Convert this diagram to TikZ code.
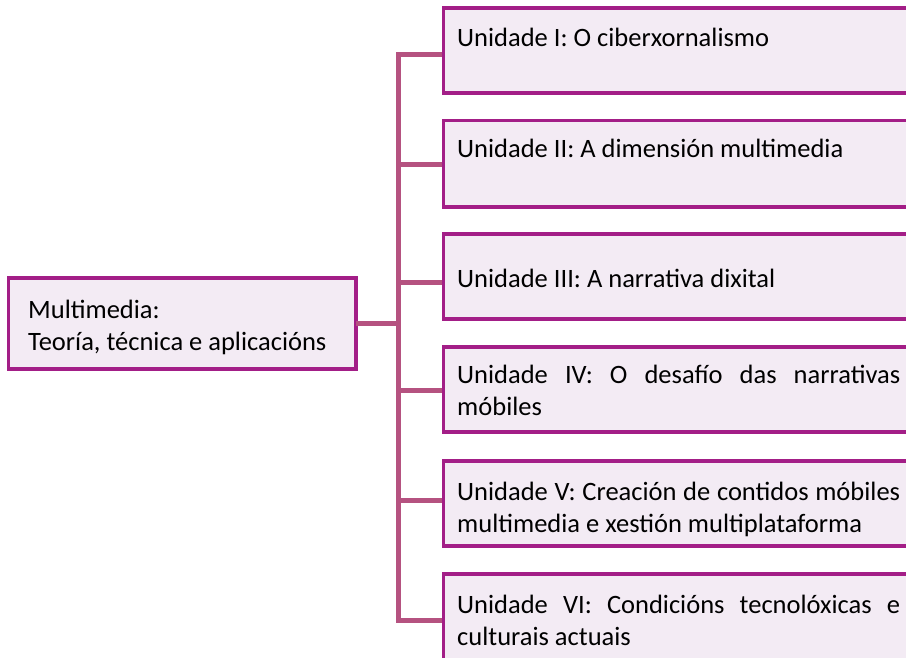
\documentclass[tikz,border=0pt]{standalone}
\usepackage{fontspec}
\setmainfont{Carlito}
\definecolor{boxborder}{RGB}{163,30,135}
\definecolor{boxfill}{RGB}{243,235,244}
\definecolor{linkcol}{RGB}{181,82,128}
\newcommand{\labelfont}{\fontsize{26.5}{32.5}\selectfont\hyphenpenalty=10000 \exhyphenpenalty=10000 \relax}
\tikzset{
  unitbox/.style={draw=boxborder, fill=boxfill, line width=3.5pt},
  link/.style={draw=linkcol, line width=5pt},
  label/.style={anchor=north west, inner sep=0pt, font=\labelfont},
}
\newcommand{\firstline}{\rule{0pt}{22pt}}
\begin{document}
\begin{tikzpicture}[x=1pt,y=-1pt]
\useasboundingbox (0,0) rectangle (906,658);
\clip (0,0) rectangle (906,658);
% boxes
\path[unitbox] (8.5,278) rectangle (356,369);
\node[inner sep=0pt] (main) at (356,323) {};
\path[unitbox] (443.5,8) rectangle (925,93);
\path[unitbox] (443.5,120.5) rectangle (925,207);
\path[unitbox] (443.5,234) rectangle (925,319);
\path[unitbox] (443.5,347) rectangle (925,432);
\path[unitbox] (443.5,461) rectangle (925,546);
\path[unitbox] (443.5,574) rectangle (925,675);
% connector anchors
\coordinate (spine) at (398.5,323);
\coordinate (u1) at (442,54.5);
\coordinate (u2) at (442,165);
\coordinate (u3) at (442,282);
\coordinate (u4) at (442,390);
\coordinate (u5) at (442,500);
\coordinate (u6) at (442,620);
\draw[link] (main.center) -- (spine);
\draw[link] (u1) -| (spine) |- (u6);
\draw[link] (spine |- u2) -- (u2);
\draw[link] (spine |- u3) -- (u3);
\draw[link] (spine |- u4) -- (u4);
\draw[link] (spine |- u5) -- (u5);
% texts
\node[label, align=left] (tmain) at (28,296) {\firstline Multimedia:\\Teoría, técnica e aplicacións};
\node[label, align=left] (t1) at (457,24) {\firstline Unidade I: O ciberxornalismo};
\node[label, align=left] (t2) at (457,135) {\firstline Unidade II: A dimensión multimedia};
\node[label, align=left] (t3) at (457,265) {\firstline Unidade III: A narrativa dixital};
\node[label, text width=443pt, align=justify] (t4) at (457,361) {\firstline Unidade IV: O desafío das narrativas móbiles};
\node[label, text width=443pt, align=justify] (t5) at (457,478) {\firstline Unidade V: Creación de contidos móbiles multimedia e xestión multiplataforma};
\node[label, text width=443pt, align=justify] (t6) at (457,591) {\firstline Unidade VI: Condicións tecnolóxicas e culturais actuais};
\end{tikzpicture}
\end{document}
